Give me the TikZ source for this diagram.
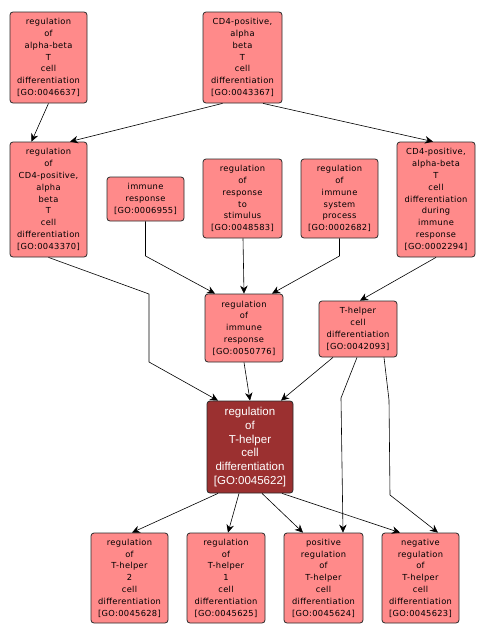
\documentclass[tikz,border=0pt]{standalone}
\usepackage{fontspec}
\usetikzlibrary{arrows.meta}
\newfontfamily\boxfont[LetterSpace=4]{DejaVu Sans}
\newfontfamily\bigfont{Liberation Sans}
\definecolor{gofill}{HTML}{FF8A8A}
\definecolor{gomain}{HTML}{9B3030}
\definecolor{goline}{HTML}{2A2A2A}
\tikzset{
  gobox/.style={draw=goline, fill=gofill, line width=0.8pt, rounded corners=3pt,
    inner sep=0pt, align=center, font=\boxfont\fontsize{8.3}{11.8}\selectfont},
  gomainbox/.style={gobox, fill=gomain, text=white, font=\bigfont\fontsize{11.5}{13.9}\selectfont},
  goedge/.style={draw=black, line width=0.6pt, -{Stealth[length=8pt,width=7.5pt]}}
}
\begin{document}
\begin{tikzpicture}[x=1pt,y=-1pt]
\useasboundingbox (0,0) rectangle (486,637);
\fill[white] (0,0) rectangle (486,637);
% top row
\node[gobox, minimum width=77, minimum height=91] (A) at (48.5,57.5)
  {regulation\\of\\alpha-beta\\T\\cell\\differentiation\\{[GO:0046637]}};
\node[gobox, minimum width=79, minimum height=91] (B) at (242.5,57.5)
  {CD4-positive,\\alpha\\beta\\T\\cell\\differentiation\\{[GO:0043367]}};
% second row
\node[gobox, minimum width=77, minimum height=115] (C) at (48.5,199.5)
  {regulation\\of\\CD4-positive,\\alpha\\beta\\T\\cell\\differentiation\\{[GO:0043370]}};
\node[gobox, minimum width=77, minimum height=44] (D) at (145.5,199)
  {immune\\response\\{[GO:0006955]}};
\node[gobox, minimum width=79, minimum height=79] (E) at (242.5,198.5)
  {regulation\\of\\response\\to\\stimulus\\{[GO:0048583]}};
\node[gobox, minimum width=77, minimum height=79] (F) at (339.5,198.5)
  {regulation\\of\\immune\\system\\process\\{[GO:0002682]}};
\node[gobox, minimum width=78, minimum height=115] (G) at (436,199.5)
  {CD4-positive,\\alpha-beta\\T\\cell\\differentiation\\during\\immune\\response\\{[GO:0002294]}};
% third row
\node[gobox, minimum width=78, minimum height=68] (H) at (244,328)
  {regulation\\of\\immune\\response\\{[GO:0050776]}};
\node[gobox, minimum width=78, minimum height=56] (I) at (358,329)
  {T-helper\\cell\\differentiation\\{[GO:0042093]}};
% main
\node[gomainbox, minimum width=86, minimum height=92] (J) at (250,447)
  {regulation\\of\\T-helper\\cell\\differentiation\\{[GO:0045622]}};
% bottom row
\node[gobox, minimum width=77, minimum height=90] (K) at (129.5,578)
  {regulation\\of\\T-helper\\2\\cell\\differentiation\\{[GO:0045628]}};
\node[gobox, minimum width=78, minimum height=90] (L) at (226,578)
  {regulation\\of\\T-helper\\1\\cell\\differentiation\\{[GO:0045625]}};
\node[gobox, minimum width=79, minimum height=90] (M) at (323.5,578)
  {positive\\regulation\\of\\T-helper\\cell\\differentiation\\{[GO:0045624]}};
\node[gobox, minimum width=77, minimum height=90] (N) at (420.5,578)
  {negative\\regulation\\of\\T-helper\\cell\\differentiation\\{[GO:0045623]}};
% bend points
\coordinate (c1) at (149,294);
\coordinate (c2) at (149,362);
\coordinate (d1) at (145.5,256);
\coordinate (f1) at (339.5,256);
\coordinate (i1) at (341,398);
\coordinate (n1) at (389,400);
\coordinate (n2) at (390,495);
% edges
\draw[goedge] (A.south) -- ([xshift=-17]C.north);
\draw[goedge] ([xshift=-20]B.south) -- ([xshift=21.5]C.north);
\draw[goedge] ([xshift=20.5]B.south) -- ([xshift=-3]G.north);
\draw[goedge] (C.south) -- (c1) -- (c2) -- ([xshift=-32]J.north);
\draw[goedge] (D.south) -- (d1) -- ([xshift=-29]H.north);
\draw[goedge] ([xshift=0.5]E.south) -- (H.north);
\draw[goedge] (F.south) -- (f1) -- ([xshift=28]H.north);
\draw[goedge] (G.south) -- ([xshift=2]I.north);
\draw[goedge] (H.south) -- (J.north);
\draw[goedge] ([xshift=-25]I.south) -- ([xshift=31]J.north);
\draw[goedge] ([xshift=-1]I.south) -- (i1) -- ([xshift=19.5]M.north);
\draw[goedge] ([xshift=26]I.south) -- (n1) -- (n2) -- ([xshift=17.5]N.north);
\draw[goedge] ([xshift=-32]J.south) -- ([xshift=2.5]K.north);
\draw[goedge] ([xshift=-11]J.south) -- ([xshift=2]L.north);
\draw[goedge] ([xshift=12]J.south) -- ([xshift=-20.5]M.north);
\draw[goedge] ([xshift=32]J.south) -- ([xshift=-20.5]N.north);
\end{tikzpicture}
\end{document}
